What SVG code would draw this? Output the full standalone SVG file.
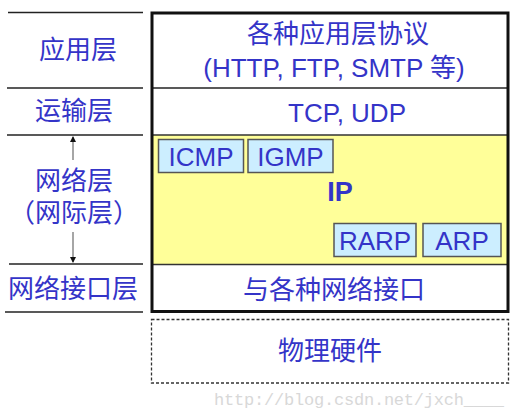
<svg xmlns="http://www.w3.org/2000/svg" width="515" height="419" viewBox="0 0 515 419">
<defs>
<style>
.t{font-family:"Liberation Sans","Noto Sans CJK SC",sans-serif;fill:#3434c8;font-size:26px;text-anchor:middle}
.ln{stroke:#222;stroke-width:1.3}
.pb{fill:#cceeff;stroke:#555;stroke-width:1.5}
</style>
<marker id="ah" markerWidth="6" markerHeight="8" refX="5" refY="4" orient="auto" markerUnits="userSpaceOnUse">
<path d="M0,1 L6,4 L0,7 z" fill="#111"/>
</marker>
</defs>
<rect width="515" height="419" fill="#fff"/>
<g id="left-lines">
<line class="ln" x1="8" y1="12.5" x2="143" y2="12.5"/>
<line class="ln" x1="7" y1="88" x2="143" y2="88"/>
<line class="ln" x1="7" y1="135" x2="143" y2="135"/>
<line class="ln" x1="9" y1="264" x2="143" y2="264"/>
<line class="ln" x1="5" y1="312" x2="143" y2="312"/>
</g>
<g id="connectors">
<line x1="73" y1="160" x2="73" y2="137" stroke="#888" stroke-width="1.5" marker-end="url(#ah)"/>
<line x1="73" y1="232" x2="73" y2="262" stroke="#888" stroke-width="1.5" marker-end="url(#ah)"/>
</g>
<g id="left-labels">
<text class="t" x="78" y="59">应用层</text>
<text class="t" x="74" y="120">运输层</text>
<text class="t" x="74" y="190">网络层</text>
<text class="t" x="74" y="222">（网际层）</text>
<text class="t" x="73" y="298">网络接口层</text>
</g>
<g id="app">
<rect x="152" y="12" width="356" height="76" fill="#fff"/>
<text class="t" x="338" y="43">各种应用层协议</text>
<text class="t" x="334" y="77">(HTTP, FTP, SMTP 等)</text>
</g>
<g id="transport">
<text class="t" x="347" y="122">TCP, UDP</text>
</g>
<g id="internet">
<rect x="152" y="135" width="356" height="129" fill="#ffff99"/>
<text class="t" x="340" y="201" style="font-weight:bold;font-size:27px">IP</text>
</g>
<g id="icmp"><rect class="pb" x="158.5" y="139.5" width="85" height="33"/><text class="t" x="201" y="166">ICMP</text></g>
<g id="igmp"><rect class="pb" x="248" y="139.5" width="85" height="33"/><text class="t" x="290.5" y="166">IGMP</text></g>
<g id="rarp"><rect class="pb" x="334" y="223.5" width="82" height="33"/><text class="t" x="375" y="250">RARP</text></g>
<g id="arp"><rect class="pb" x="423" y="223.5" width="78" height="33"/><text class="t" x="462" y="250">ARP</text></g>
<g id="netif">
<text class="t" x="334" y="299">与各种网络接口</text>
</g>
<g id="frame">
<line x1="152" y1="88" x2="508" y2="88" stroke="#222" stroke-width="1.3"/>
<line x1="152" y1="135" x2="508" y2="135" stroke="#333" stroke-width="1.3"/>
<line x1="152" y1="264.5" x2="508" y2="264.5" stroke="#333" stroke-width="1.3"/>
<rect x="152" y="13" width="356" height="298.5" fill="none" stroke="#111" stroke-width="3"/>
</g>
<g id="hardware">
<rect x="151.5" y="319.5" width="357" height="63.5" fill="none" stroke="#333" stroke-width="1.3" stroke-dasharray="3,2"/>
<text class="t" x="330" y="360">物理硬件</text>
</g>
<text x="214" y="405" style="font-family:'Liberation Mono',monospace;font-size:17px;fill:#d8d8d8" textLength="290">http://blog.csdn.net/jxch____</text>
</svg>
